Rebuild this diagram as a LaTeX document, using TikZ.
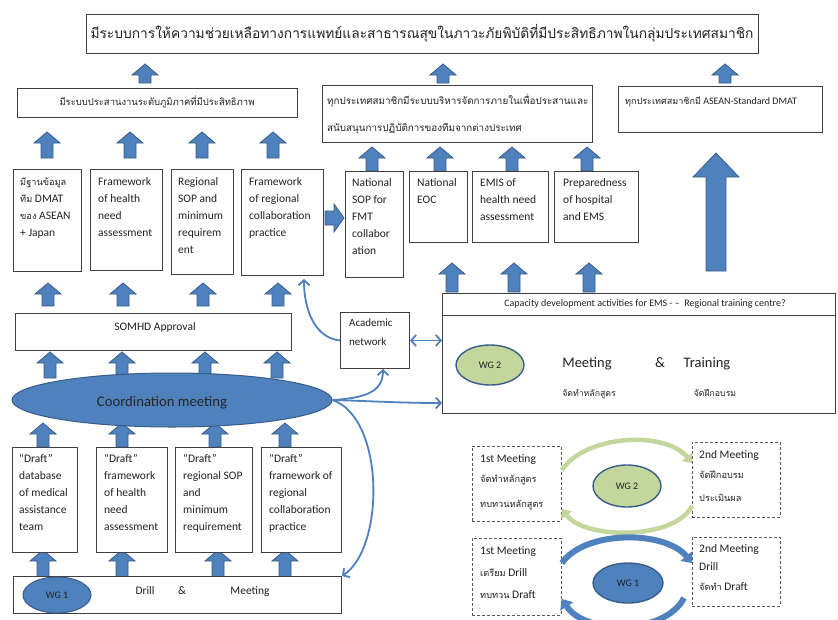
\documentclass[tikz,border=0pt]{standalone}
\usepackage{fontspec}
\setmainfont{Carlito}
\newfontfamily\thaifont[Script=Thai,Scale=0.8]{Loma}
\usetikzlibrary{arrows.meta,shapes.geometric}
\definecolor{ablue}{HTML}{4F81BD}
\definecolor{dblue}{HTML}{385D8A}
\definecolor{lgreen}{HTML}{C3D69B}
\definecolor{ink}{HTML}{222222}
\newcommand\tht[1]{{\thaifont #1}}
\newcommand\fl{\rule{0pt}{14pt}}
\newcommand\UpArr[3]{\draw[blockarrow] ({#1-6},#2) -- ({#1-6},{#3+11}) -- ({#1-13},{#3+11}) -- (#1,#3) -- ({#1+13},{#3+11}) -- ({#1+6},{#3+11}) -- ({#1+6},#2) -- cycle;}
\newcommand\Bx[6][box]{\node[#1, minimum width={(#5-#3)*1pt}, minimum height={(#6-#4)*1pt}] (#2) at (#3,#4) {};}
\newcommand\Tx[5][]{\node[txt,#1] (#2) at (#3,{#4-14}) {\fl #5};}
\tikzset{
  box/.style={draw=black!75, line width=0.9pt, fill=white, anchor=north west, inner sep=0pt},
  dbox/.style={box, dash pattern=on 3pt off 2pt, draw=black!65},
  txt/.style={anchor=north west, inner sep=0pt, align=left, text=ink, font=\fontsize{11.5}{17}\selectfont},
  ctxt/.style={inner sep=0pt, text=ink},
  blockarrow/.style={fill=ablue, draw=dblue, line width=0.8pt, line join=miter},
  conn/.style={draw=ablue, line width=1.8pt},
  barb/.style={-{Straight Barb[length=5pt,width=11pt]}},
  greenarc/.style={draw=lgreen, line width=4.5pt, -{Triangle[length=8pt,width=13pt]}},
  bluearc/.style={draw=ablue, line width=6pt, -{Triangle[length=9pt,width=15pt]}},
}
\begin{document}
\begin{tikzpicture}[x=1pt,y=-1pt]
\useasboundingbox (0,0) rectangle (838,619);
\fill[white] (0,0) rectangle (838,619);

% ---------- block arrows ----------
\UpArr{145}{83}{64}
\UpArr{443}{83}{64}
\UpArr{725}{83}{64}
\foreach \xx in {47,130,202,273} {\UpArr{\xx}{158}{132}}
\foreach \xx in {372,440,512,587} {\UpArr{\xx}{171}{147}}
\foreach \xx in {452,514,589} {\UpArr{\xx}{292}{263}}
\foreach \xx in {48,123,203,278} {\UpArr{\xx}{306}{283}}
\foreach \xx in {50,122,205,277} {\UpArr{\xx}{378}{352}}
\foreach \xx in {43,122,215,285} {\UpArr{\xx}{447}{423}}
\foreach \xx in {43,122,218,285} {\UpArr{\xx}{577}{550}}
% big arrow
\draw[blockarrow] (706,271) -- (706,177) -- (693,177) -- (716,153) -- (739,177) -- (726,177) -- (726,271) -- cycle;
% right arrow
\draw[blockarrow] (325,211) -- (334,211) -- (334,204) -- (344,218) -- (334,232) -- (334,225) -- (325,225) -- cycle;

% ---------- boxes ----------
\Bx{goal}{86}{14}{758}{53}
\Bx{regco}{17}{88}{297}{117}
\Bx{natsys}{322}{85}{592}{142}
\Bx{stddmat}{618}{86}{822}{132}
\Bx{fdb}{13}{169}{81}{271}
\Bx{fhna}{90}{169}{162}{270}
\Bx{fsop}{171}{169}{233}{274}
\Bx{fcol}{241}{169}{323}{275}
\Bx{nsop}{345}{171}{403}{277}
\Bx{neoc}{409}{171}{467}{242}
\Bx{emis}{472}{171}{548}{242}
\Bx{prep}{554}{171}{638}{242}
\Bx{somhd}{15}{313}{291}{350}
\Bx{acad}{340}{312}{409}{368}
\Bx{cap}{442}{293}{835}{413}
\Bx{captitle}{442}{293}{835}{315}
\Bx{dfa}{12}{447}{77}{552}
\Bx{dfb}{96}{447}{167}{552}
\Bx{dfc}{175}{447}{252}{552}
\Bx{dfd}{261}{447}{341}{552}
\Bx{drill}{13}{576}{341}{613}
\Bx[dbox]{mtl}{472}{446}{561}{521}
\Bx[dbox]{mtr}{692}{442}{780}{517}
\Bx[dbox]{mbl}{472}{538}{561}{615}
\Bx[dbox]{mbr}{692}{537}{780}{606}

% ---------- ellipses ----------
\node[ellipse, draw=dblue, fill=ablue, line width=1pt, minimum width=320pt, minimum height=54pt, inner sep=0pt] (coord) at (172,400) {};
\node[ctxt, text=black!85, font=\fontsize{14.7}{16}\selectfont] (coordtxt) at (162,403) {Coordination meeting};
\node[ellipse, draw=dblue, fill=ablue, line width=1pt, minimum width=68pt, minimum height=36pt, inner sep=0pt, text=ink, font=\fontsize{10}{12}\selectfont] (wgone) at (57,595) {WG 1};
\node[ellipse, draw=dblue, fill=lgreen, line width=1.4pt, minimum width=68pt, minimum height=40pt, inner sep=0pt, text=ink, font=\fontsize{10}{12}\selectfont] (wgtwo) at (490,365) {WG 2};
\node[ellipse, draw=dblue, fill=lgreen, line width=1.4pt, minimum width=68pt, minimum height=42pt, inner sep=0pt, text=ink, font=\fontsize{10}{12}\selectfont] (cwgtwo) at (627,486) {WG 2};
\node[ellipse, draw=dblue, fill=ablue, line width=1.4pt, minimum width=70pt, minimum height=40pt, inner sep=0pt, text=ink, font=\fontsize{10}{12}\selectfont] (cwgone) at (628,583) {WG 1};

% ---------- texts ----------
\node[ctxt, font=\thaifont\fontsize{17.2}{20}\selectfont] (goaltxt) at (422,33) {มีระบบการให้ความช่วยเหลือทางการแพทย์และสาธารณสุขในภาวะภัยพิบัติที่มีประสิทธิภาพในกลุ่มประเทศสมาชิก};
\node[ctxt, font=\thaifont\fontsize{11.8}{14}\selectfont] (regcotxt) at (157,102) {มีระบบประสานงานระดับภูมิภาคที่มีประสิทธิภาพ};
\Tx[font=\thaifont\fontsize{12.3}{27}\selectfont]{natsystxt}{327}{104}{ทุกประเทศสมาชิกมีระบบบริหารจัดการภายในเพื่อประสานและ\\สนับสนุนการปฏิบัติการของทีมจากต่างประเทศ}
\Tx[font=\fontsize{10}{12}\selectfont]{stddmattxt}{625}{104}{{\thaifont\fontsize{11.3}{12}\selectfont ทุกประเทศสมาชิกมี} ASEAN-Standard DMAT}

\Tx{fdbtxt}{20}{185}{\tht{มีฐานข้อมูล}\\\tht{ทีม} DMAT\\\tht{ของ} ASEAN\\+ Japan}
\Tx{fhnatxt}{98}{185}{Framework\\of health\\need\\assessment}
\Tx{fsoptxt}{178}{185}{Regional\\SOP and\\minimum\\requirem\\ent}
\Tx{fcoltxt}{249}{185}{Framework\\of regional\\collaboration\\practice}
\Tx{nsoptxt}{352}{186}{National\\SOP for\\FMT\\collabor\\ation}
\Tx{neoctxt}{417}{186}{National\\EOC}
\Tx{emistxt}{480}{186}{EMIS of\\health need\\assessment}
\Tx{preptxt}{563}{186}{Preparedness\\of hospital\\and EMS}

\node[ctxt, font=\fontsize{11.5}{14}\selectfont] (somhdtxt) at (155,327) {SOMHD Approval};
\Tx[font=\fontsize{11}{19}\selectfont]{acadtxt}{349}{326}{Academic\\network}

\node[ctxt, font=\fontsize{10}{12}\selectfont] (captxt) at (645,304) {Capacity development activities for EMS - -- \ Regional training centre?};
\node[ctxt, anchor=base, font=\fontsize{14.5}{16}\selectfont] (capmeet) at (587,367) {Meeting};
\node[ctxt, anchor=base, font=\fontsize{14.5}{16}\selectfont] (capamp) at (660,367) {\&};
\node[ctxt, anchor=base, font=\fontsize{14.5}{16}\selectfont] (captrain) at (707,367) {Training};
\node[ctxt, anchor=base, font=\thaifont\fontsize{10.9}{12}\selectfont] (capmeetth) at (589,396) {จัดทำหลักสูตร};
\node[ctxt, anchor=base, font=\thaifont\fontsize{10.9}{12}\selectfont] (captrainth) at (715,396) {จัดฝึกอบรม};

\Tx{dfatxt}{19}{462}{“Draft”\\database\\of medical\\assistance\\team}
\Tx{dfbtxt}{104}{462}{“Draft”\\framework\\of health\\need\\assessment}
\Tx{dfctxt}{183}{462}{“Draft”\\regional SOP\\and\\minimum\\requirement}
\Tx{dfdtxt}{269}{462}{“Draft”\\framework of\\regional\\collaboration\\practice}

\node[ctxt, anchor=base, font=\fontsize{11.5}{14}\selectfont] (drilltxt) at (145,594) {Drill};
\node[ctxt, anchor=base, font=\fontsize{11.5}{14}\selectfont] (drillamp) at (182,594) {\&};
\node[ctxt, anchor=base, font=\fontsize{11.5}{14}\selectfont] (drillmeet) at (250,594) {Meeting};

\Tx{mtltxt}{480}{462}{1st Meeting\\[3pt]\tht{จัดทำหลักสูตร}\\[8pt]\tht{ทบทวนหลักสูตร}}
\Tx{mtrtxt}{699}{458}{2nd Meeting\\[3pt]\tht{จัดฝึกอบรม}\\[6pt]\tht{ประเมินผล}}
\Tx{mbltxt}{480}{554}{1st Meeting\\[5pt]\tht{เตรียม} Drill\\[5pt]\tht{ทบทวน} Draft}
\Tx{mbrtxt}{699}{552}{2nd Meeting\\[1pt]Drill\\[3pt]\tht{จัดทำ} Draft}

% ---------- connectors ----------
\coordinate (fcolin) at (304,279);
\coordinate (acadin) at (383,369);
\coordinate (capin) at (442,403);
\draw[conn, barb] (acad.west) .. controls (316,338) and (304,312) .. (fcolin);
\draw[conn, {Straight Barb[length=5pt,width=11pt]}-{Straight Barb[length=5pt,width=11pt]}] (acad.east) -- (acad.east -| cap.west);
\draw[conn, barb] (coord.east) .. controls (365,398) and (383,392) .. (acadin);
\draw[conn, barb] (coord.east) .. controls (370,401) and (400,403) .. (capin);
\draw[conn, barb] (coord.east) .. controls (385,418) and (385,548) .. (drill.north east);

% ---------- cycle arcs ----------
\draw[greenarc] ([yshift=-24pt]mtl.north east) .. controls (585,435) and (665,430) .. ([yshift=-21pt]mtr.north west);
\draw[greenarc] ([yshift=12pt]mtr.south west) .. controls (675,540) and (585,540) .. ([yshift=13pt]mtl.south east);
\draw[bluearc] ([yshift=-25pt]mbl.north east) .. controls (585,530) and (665,530) .. ([yshift=-26pt]mbr.north west);
\draw[bluearc] ([xshift=-8pt,yshift=9pt]mbr.south west) .. controls (665,635) and (585,635) .. ([yshift=17pt]mbl.south east);
\end{tikzpicture}
\end{document}
